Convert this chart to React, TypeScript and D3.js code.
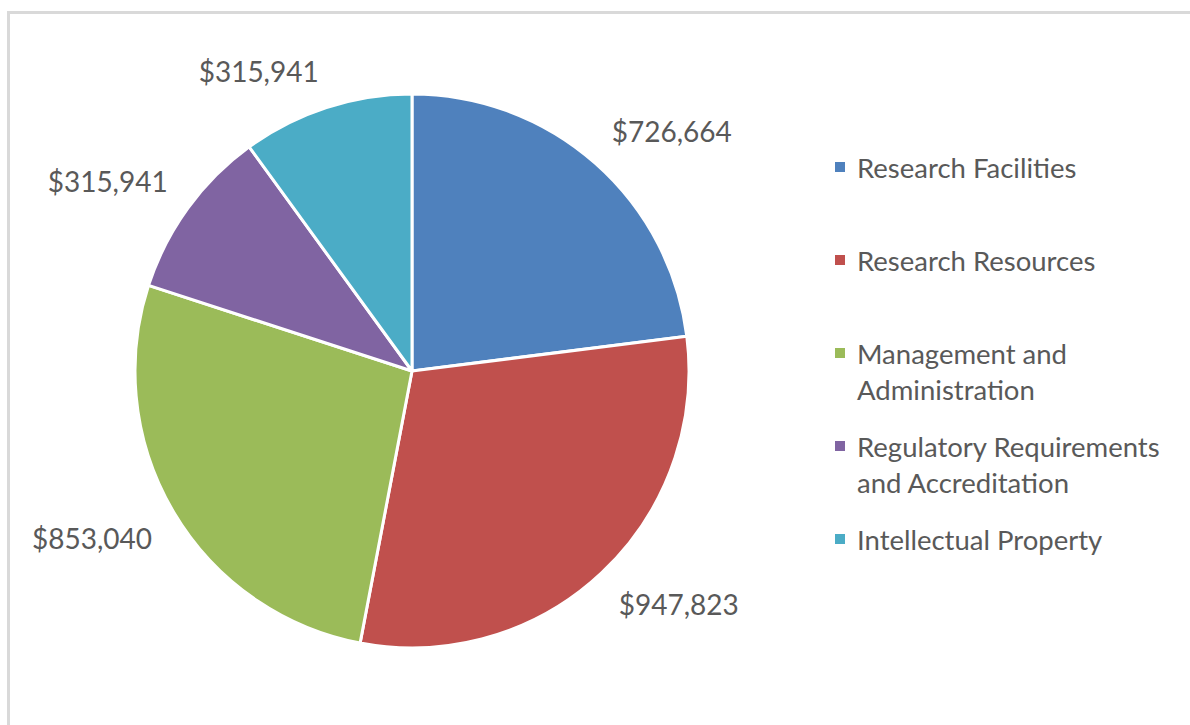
import React from "react";
import * as d3 from "d3";

const categories = [
  "Research Facilities",
  "Research Resources",
  "Management and Administration",
  "Regulatory Requirements and Accreditation",
  "Intellectual Property",
];
const values = [726664, 947823, 853040, 315941, 315941];
const colors = ["#4F81BD", "#C0504D", "#9BBB59", "#8064A2", "#4BACC6"];
const legendLines = [
  ["Research Facilities"],
  ["Research Resources"],
  ["Management and", "Administration"],
  ["Regulatory Requirements", "and Accreditation"],
  ["Intellectual Property"],
];

const W = 1190;
const H = 725;
const cx = 412;
const cy = 371;
const radius = 277;
const FONT = "Lato, 'Open Sans', sans-serif";
const TEXT = "#595959";

export default function App() {
  const pie = d3
    .pie<number>()
    .sort(null)
    .value((d) => d)(values);
  const arc = d3.arc<d3.PieArcDatum<number>>().innerRadius(0).outerRadius(radius);
  const fmt = (v: number) => "$" + d3.format(",")(v);

  const labelR = 302;
  const halfW = 60;
  const halfH = 13;

  const legendX = 835;
  const legendRowY = [167, 260, 353, 446, 539];
  const lineH = 36;

  return (
    <div style={{ position: "absolute", left: 0, top: 0 }}>
      <svg width={W} height={H} style={{ display: "block", background: "#fff" }}>
        <rect x={8.5} y={12.5} width={1400} height={900} fill="#fff" stroke="#d9d9d9" strokeWidth={3} />
        <g transform={`translate(${cx},${cy})`}>
          {pie.map((p, i) => (
            <path key={i} d={arc(p) || ""} fill={colors[i]} stroke="#fff" strokeWidth={3} strokeLinejoin="round" />
          ))}
          {pie.map((p, i) => {
            const a = (p.startAngle + p.endAngle) / 2;
            const s = Math.sin(a);
            const c = Math.cos(a);
            const x = labelR * s + Math.sign(s) * halfW;
            const y = -labelR * c - Math.sign(c) * halfH;
            return (
              <text
                key={"l" + i}
                x={x}
                y={y}
                textAnchor="middle"
                dominantBaseline="central"
                fontFamily={FONT}
                fontSize={28}
                fill={TEXT}
              >
                {fmt(values[i])}
              </text>
            );
          })}
        </g>
        <g>
          {categories.map((c, i) => (
            <g key={c}>
              <rect x={legendX} y={legendRowY[i] - 5} width={10} height={10} fill={colors[i]} />
              {legendLines[i].map((ln, j) => (
                <text
                  key={j}
                  x={legendX + 22}
                  y={legendRowY[i] + j * lineH}
                  dominantBaseline="central"
                  fontFamily={FONT}
                  fontSize={27.5}
                  fill={TEXT}
                >
                  {ln}
                </text>
              ))}
            </g>
          ))}
        </g>
      </svg>
    </div>
  );
}
